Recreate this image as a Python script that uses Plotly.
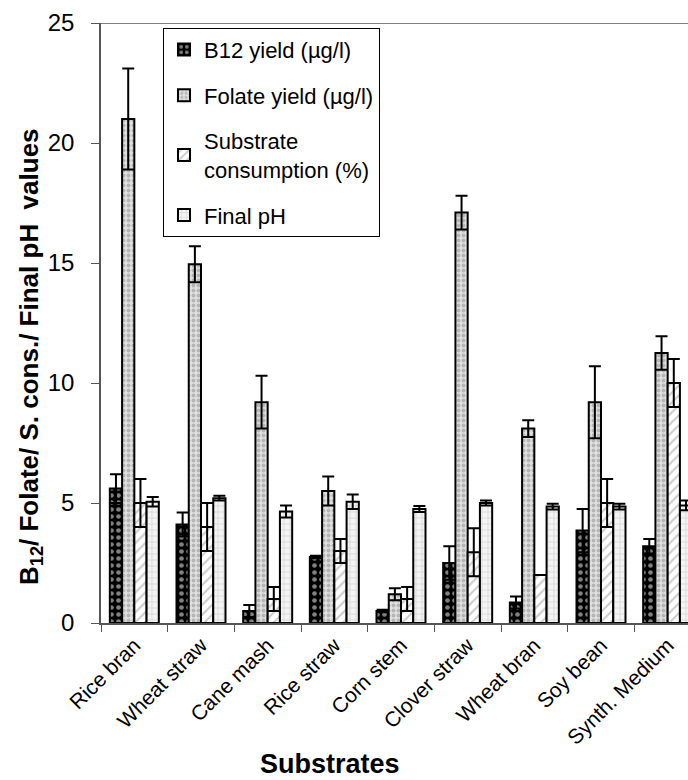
import plotly.graph_objects as go

categories = ["Rice bran", "Wheat straw", "Cane mash", "Rice straw", "Corn stem",
              "Clover straw", "Wheat bran", "Soy bean", "Synth. Medium"]

b12 = [5.6, 4.1, 0.5, 2.75, 0.5, 2.5, 0.85, 3.85, 3.2]
b12_err = [0.6, 0.5, 0.25, 0.05, 0.05, 0.7, 0.25, 0.9, 0.3]

folate = [21.0, 14.95, 9.2, 5.5, 1.2, 17.1, 8.1, 9.2, 11.25]
folate_err = [2.1, 0.75, 1.1, 0.6, 0.25, 0.7, 0.35, 1.5, 0.7]

substrate = [5.0, 4.0, 1.0, 3.0, 1.0, 2.95, 2.0, 5.0, 10.0]
substrate_err = [1.0, 1.0, 0.5, 0.5, 0.5, 1.0, 0.0, 1.0, 1.0]

ph = [5.05, 5.2, 4.65, 5.05, 4.75, 5.0, 4.85, 4.85, 4.9]
ph_err = [0.2, 0.1, 0.25, 0.3, 0.12, 0.1, 0.12, 0.12, 0.2]

y_ticks = [0, 5, 10, 15, 20, 25]

series = [
    ("B12 yield (µg/l)", b12, b12_err, dict(shape=".", fgcolor="white", bgcolor="black", size=7, solidity=0.35)),
    ("Folate yield (µg/l)", folate, folate_err, dict(shape=".", fgcolor="#8a8a8a", bgcolor="#e0e0e0", size=5, solidity=0.45)),
    ("Substrate<br>consumption (%)", substrate, substrate_err, dict(shape="/", fgcolor="#999999", bgcolor="white", size=7, solidity=0.3)),
    ("Final pH", ph, ph_err, dict(shape="+", fgcolor="#b5b5b5", bgcolor="#f4f4f4", size=6, solidity=0.25)),
]

FONT = "Liberation Sans, Arial, sans-serif"

fig = go.Figure()
for i, (name, vals, errs, pat) in enumerate(series):
    fig.add_trace(go.Bar(
        x=categories, y=vals, name=name, legendgroup=f"g{i}",
        marker=dict(color=pat["bgcolor"], pattern=pat,
                    line=dict(color="black", width=2)),
        error_y=dict(type="data", array=errs, visible=True,
                     color="black", thickness=2, width=6),
    ))

fig.update_layout(
    width=688, height=780,
    margin=dict(l=101, r=0, t=23, b=157),
    paper_bgcolor="white", plot_bgcolor="white",
    barmode="group", bargap=0.265, bargroupgap=0,
    font=dict(family=FONT, color="black"),
    legend=dict(x=0.1056, y=0.992, xanchor="left", yanchor="top",
                bordercolor="black", borderwidth=1, bgcolor="white",
                font=dict(size=22), traceorder="grouped", tracegroupgap=14,
                itemwidth=30),
    showlegend=True,
)
fig.update_xaxes(
    range=[-0.5, 8.305], showline=True, linecolor="#555", linewidth=1.5,
    ticks="outside", tickson="boundaries", ticklen=7, tickcolor="#555",
    tickangle=-45, tickfont=dict(size=21),
    showgrid=False, zeroline=False,
)
fig.update_yaxes(
    range=[0, 25], tickvals=y_ticks, showline=True, linecolor="#555", linewidth=1.5,
    ticks="outside", ticklen=8, tickcolor="#555", tickfont=dict(size=24),
    ticklabelstandoff=12,
    showgrid=False, zeroline=False,
)
fig.add_shape(type="line", xref="paper", yref="y", x0=0, x1=1, y0=25, y1=25,
              line=dict(color="#555", width=1.5))
fig.add_annotation(text="<b>B<sub>12</sub>/ Folate/ S. cons./ Final pH  values</b>",
                   xref="paper", yref="paper", textangle=-90,
                   x=(30 - 101) / 587, y=(623 - 357) / 600,
                   xanchor="center", yanchor="middle", showarrow=False,
                   font=dict(size=26, family=FONT))
fig.add_annotation(text="<b>Substrates</b>", xref="paper", yref="paper",
                   x=(330 - 101) / 587, y=-(764 - 623) / 600,
                   xanchor="center", yanchor="middle", showarrow=False,
                   font=dict(size=27, family=FONT))

fig.write_html("out.html")
